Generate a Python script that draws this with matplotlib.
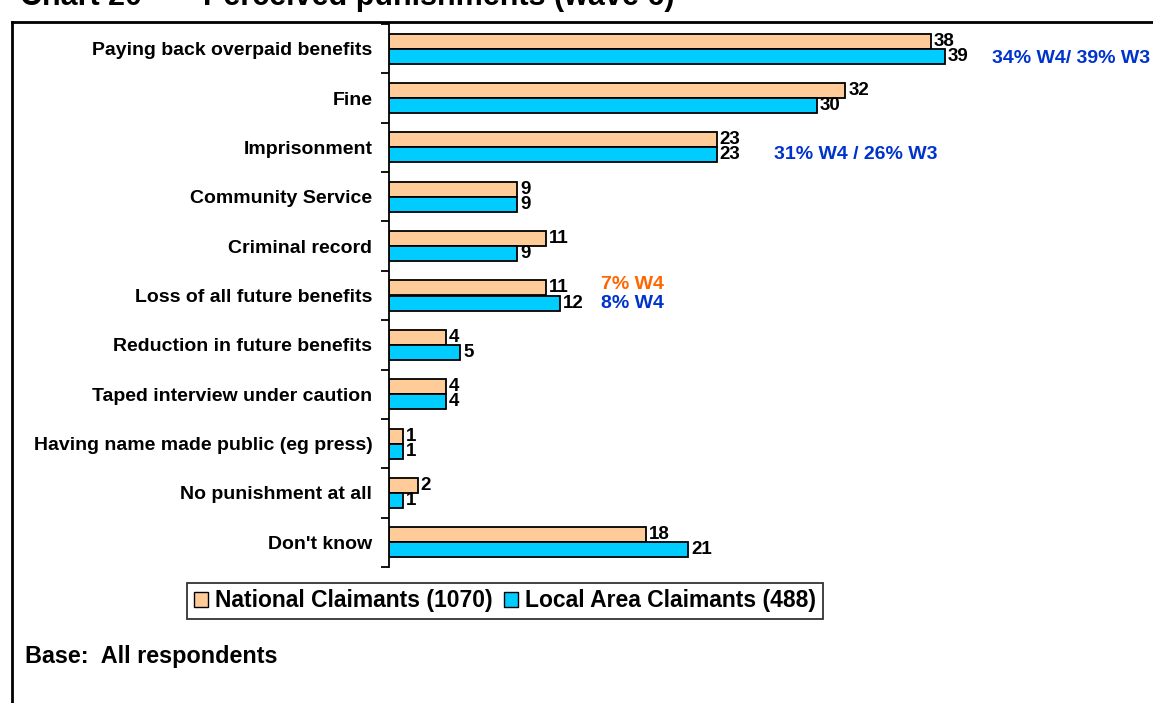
import matplotlib.pyplot as plt
from matplotlib.lines import Line2D
from matplotlib.patches import Rectangle

plt.rcParams["font.family"] = ["Liberation Sans", "DejaVu Sans"]
plt.rcParams["font.weight"] = "bold"

CATEGORIES = [
    "Paying back overpaid benefits",
    "Fine",
    "Imprisonment",
    "Community Service",
    "Criminal record",
    "Loss of all future benefits",
    "Reduction in future benefits",
    "Taped interview under caution",
    "Having name made public (eg press)",
    "No punishment at all",
    "Don't know",
]
NATIONAL = [38, 32, 23, 9, 11, 11, 4, 4, 1, 2, 18]
LOCAL = [39, 30, 23, 9, 9, 12, 5, 4, 1, 1, 21]

SERIES = [
    ("National Claimants (1070)", NATIONAL, "#FFCC99"),
    ("Local Area Claimants (488)", LOCAL, "#00CCFF"),
]

# wave comparison notes: (category index, x position in data units, y offset, text, colour)
NOTES = [
    (0, 42.3, 0.2, "34% W4/ 39% W3", "#0033CC"),
    (2, 27.0, 0.15, "31% W4 / 26% W3", "#0033CC"),
    (5, 14.9, -0.22, "7% W4", "#FF6600"),
    (5, 14.9, 0.17, "8% W4", "#0033CC"),
]

W, H = 1153, 703
fig = plt.figure(figsize=(W / 100, H / 100), dpi=100)
ax = fig.add_axes([389 / W, 1 - 567 / H, (W - 389) / W, (567 - 24) / H])

bar_h = 0.305
n = len(CATEGORIES)
for i, (label, values, color) in enumerate(SERIES):
    offset = -bar_h / 2 if i == 0 else bar_h / 2
    ys = [k + offset for k in range(n)]
    ax.barh(ys, values, height=bar_h, color=color, edgecolor="black",
            linewidth=1.3, label=label)
    for y, v in zip(ys, values):
        ax.text(v + 0.2, y, str(v), va="center", ha="left", fontsize=13.5,
                fontweight="bold")

for idx, x, dy, text, color in NOTES:
    ax.text(x, idx + dy, text, color=color, fontsize=14, fontweight="bold",
            va="center", ha="left")

ax.set_xlim(0, (W - 389) / 14.26)
ax.set_ylim(n - 0.5, -0.5)
ax.set_yticks(range(n))
ax.set_yticklabels(CATEGORIES, fontsize=14, fontweight="bold")
ax.tick_params(axis="y", which="major", length=0, pad=12)
ax.set_yticks([k - 0.5 for k in range(n + 1)], minor=True)
ax.tick_params(axis="y", which="minor", length=6, width=1.3, direction="out")
ax.set_xticks([])
for side in ("top", "right", "bottom"):
    ax.spines[side].set_visible(False)
ax.spines["left"].set_linewidth(1.3)
ax.set_facecolor("none")

# legend along the bottom of the chart area
handles = [
    Rectangle((0, 0), 1, 1, facecolor=c, edgecolor="black", linewidth=1)
    for _, _, c in SERIES
]
leg = fig.legend(
    handles,
    [s[0] for s in SERIES],
    loc="center",
    bbox_to_anchor=(505 / W, 1 - 601 / H),
    ncols=2,
    frameon=True,
    fancybox=False,
    handlelength=0.6,
    handleheight=0.6,
    handletextpad=0.3,
    columnspacing=0.5,
    borderpad=0.3,
    borderaxespad=0,
    prop={"weight": "bold", "size": 16.5},
)
leg.get_frame().set_edgecolor("black")
leg.get_frame().set_linewidth(1.3)

fig.text(25 / W, 1 - 657 / H, "Base:  All respondents", fontsize=16.8,
         fontweight="bold", va="center", ha="left")

# title sitting above the frame, partly off the top edge
fig.text(20 / W, 1 - 5 / H, "Chart 20", fontsize=22, fontweight="bold",
         va="baseline", ha="left")
fig.text(203 / W, 1 - 5 / H, "Perceived punishments (wave 6)", fontsize=22,
         fontweight="bold", va="baseline", ha="left")

# outer frame
fig.add_artist(Line2D([12 / W, 12 / W], [0, 1 - 22 / H], color="black",
                      linewidth=2))
fig.add_artist(Line2D([12 / W, 1], [1 - 22 / H, 1 - 22 / H], color="black",
                      linewidth=2))

fig.savefig("out.png", dpi=100, facecolor="white")
